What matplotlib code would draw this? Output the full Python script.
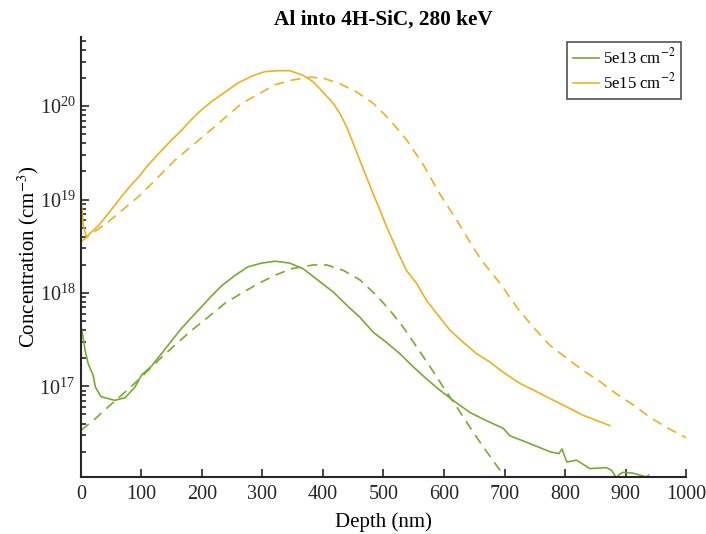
import numpy as np
import matplotlib
matplotlib.use("Agg")
import matplotlib.pyplot as plt

plt.rcParams['font.family'] = ['Liberation Serif', 'DejaVu Serif']
plt.rcParams['mathtext.fontset'] = 'stix'

# 5e15 cm-2, measured (solid) -- depth in nm, log10 of concentration
x_hi = [0, 4, 9, 15, 29, 45, 62, 78, 95, 111, 128, 150, 166, 183, 199, 216, 238, 260,
        282, 304, 326, 345, 367, 384, 400, 417, 428, 439, 450, 461, 472, 483, 494,
        505, 516, 522, 538, 555, 571, 588, 610, 632, 654, 676, 698, 726, 748, 775,
        803, 830, 858, 874]
c_hi = [19.03, 18.71, 18.60, 18.64, 18.72, 18.85, 18.99, 19.12, 19.24, 19.37, 19.49,
        19.64, 19.74, 19.86, 19.96, 20.05, 20.15, 20.25, 20.32, 20.37, 20.38, 20.38,
        20.33, 20.26, 20.15, 20.03, 19.92, 19.78, 19.60, 19.42, 19.24, 19.06, 18.89,
        18.71, 18.55, 18.46, 18.24, 18.10, 17.92, 17.78, 17.60, 17.47, 17.35, 17.26,
        17.15, 17.03, 16.96, 16.87, 16.78, 16.69, 16.62, 16.58]
# 5e15 cm-2, simulated (dashed)
x_hi_sim = [0, 45, 100, 155, 210, 266, 321, 350, 379, 400, 428, 456, 483, 511, 538,
            566, 593, 621, 648, 662, 693, 720, 748, 775, 803, 830, 858, 885, 913, 940,
            968, 1000]
c_hi_sim = [18.55, 18.76, 19.06, 19.42, 19.72, 20.03, 20.23, 20.28, 20.31, 20.30, 20.24,
            20.15, 20.03, 19.85, 19.64, 19.37, 19.06, 18.78, 18.49, 18.35, 18.10, 17.85,
            17.63, 17.44, 17.30, 17.17, 17.05, 16.92, 16.80, 16.67, 16.56, 16.45]

# 5e13 cm-2, measured (solid)
x_lo = [0, 2, 7, 12, 20, 24, 33, 56, 73, 89, 100, 117, 133, 150, 166, 183, 199, 216,
        233, 255, 276, 299, 321, 345, 367, 395, 417, 439, 461, 483, 505, 527, 549,
        571, 593, 615, 643, 671, 698, 709, 737, 764, 775, 790, 795, 803, 819, 841,
        869, 877, 885, 890, 896, 913, 935, 938]
c_lo = [17.65, 17.58, 17.38, 17.24, 17.12, 16.99, 16.89, 16.85, 16.88, 16.99, 17.12,
        17.22, 17.35, 17.49, 17.62, 17.74, 17.85, 17.97, 18.08, 18.19, 18.28, 18.32,
        18.34, 18.32, 18.26, 18.12, 18.01, 17.87, 17.74, 17.58, 17.47, 17.35, 17.21,
        17.08, 16.96, 16.85, 16.72, 16.63, 16.55, 16.47, 16.40, 16.33, 16.30, 16.28,
        16.33, 16.19, 16.21, 16.12, 16.13, 16.10, 16.02, 16.06, 16.08, 16.07, 16.03,
        16.05]
# 5e13 cm-2, simulated (dashed)
x_lo_sim = [0, 23, 45, 73, 100, 128, 155, 183, 210, 238, 266, 293, 321, 348, 384,
            406, 434, 461, 489, 511, 533, 555, 577, 599, 621, 643, 665, 695, 710]
c_lo_sim = [16.53, 16.65, 16.78, 16.94, 17.10, 17.28, 17.44, 17.60, 17.74, 17.89, 18.00,
            18.10, 18.19, 18.26, 18.30, 18.30, 18.24, 18.14, 17.97, 17.81, 17.63, 17.42,
            17.21, 16.99, 16.78, 16.56, 16.35, 16.08, 15.93]

green = '#77AC30'
orange = '#EDB120'

fig = plt.figure(figsize=(7.06, 5.34), dpi=100)
ax = fig.add_axes([0.1147, 0.1067, 0.857, 0.824])

ax.plot(x_lo, 10 ** np.array(c_lo), color=green, lw=1.2, label='5e13 cm$^{-2}$')
ax.plot(x_hi, 10 ** np.array(c_hi), color=orange, lw=1.2, label='5e15 cm$^{-2}$')
ax.plot(x_lo_sim, 10 ** np.array(c_lo_sim), color=green, lw=1.2, ls=(0, (6, 4)))
ax.plot(x_hi_sim, 10 ** np.array(c_hi_sim), color=orange, lw=1.2, ls=(0, (6, 4)))

ax.set_yscale('log')
ax.set_xlim(0, 1000)
ax.set_ylim(1.07e16, 5.5e20)
ax.set_xticks(np.arange(0, 1001, 100))

for s in ['top', 'right']:
    ax.spines[s].set_visible(False)
for s in ['left', 'bottom']:
    ax.spines[s].set_linewidth(1.5)
    ax.spines[s].set_color('#262626')
ax.tick_params(which='both', direction='in', colors='#262626', labelsize=14.5, width=1.2)
ax.tick_params(which='major', length=6)
ax.tick_params(which='minor', length=3.5)
ax.tick_params(axis='x', pad=6)
ax.tick_params(axis='y', pad=4)

ax.set_xlabel('Depth (nm)', fontsize=15, labelpad=6)
ax.set_ylabel('Concentration (cm$^{-3}$)', fontsize=15, labelpad=-1)
ax.set_title('Al into 4H-SiC, 280 keV', fontsize=15.3, fontweight='bold', pad=9)

leg = ax.legend(loc='upper right', fontsize=12, frameon=True, fancybox=False,
                edgecolor='#262626', handlelength=1.6, handletextpad=0.2,
                borderpad=0.35, borderaxespad=0.3, labelspacing=0.3)
leg.get_frame().set_linewidth(1.2)

fig.savefig('out.png', dpi=100)
